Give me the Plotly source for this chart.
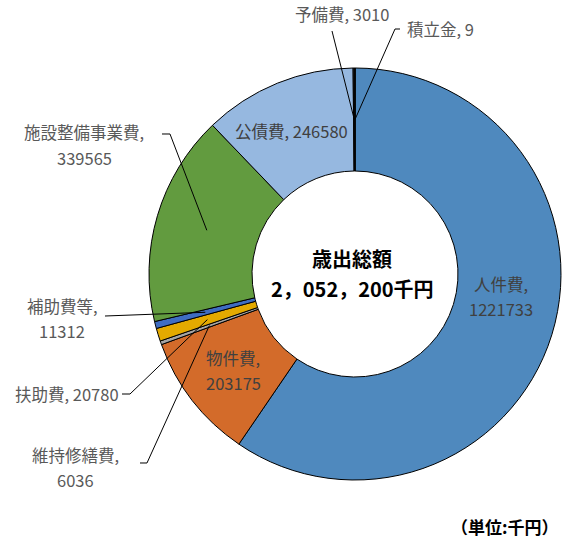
import math
import plotly.graph_objects as go

categories = ["人件費", "物件費", "維持修繕費", "扶助費", "補助費等",
              "施設整備事業費", "公債費", "予備費", "積立金"]
values = [1221733, 203175, 6036, 20780, 11312, 339565, 246580, 3010, 9]
colors = ["#4F89BE", "#D36B2A", "#A5A5A5", "#E4AA00", "#3F6DC2",
          "#629B3F", "#96B8E0", "#262626", "#2E4F7E"]
center_title = "歳出総額"
center_total = "2，052，200千円"
unit_label = "（単位:千円）"

W, H = 563, 542
CX, CY, R = 355, 274, 206
HOLE = 0.5
FONT = "Noto Sans CJK JP"
LABEL_SIZE = 16.5


def px(x):
    return x / W


def py(y):
    return 1 - y / H


total = sum(values)
mids = []
acc = 0
for v in values:
    mids.append((acc + v / 2) / total * 2 * math.pi)
    acc += v


def tip(i, rf=0.75):
    a = mids[i]
    r = R * rf
    return CX + r * math.sin(a), CY - r * math.cos(a)


fig = go.Figure(go.Pie(
    labels=categories, values=values, sort=False, direction="clockwise",
    rotation=0, hole=HOLE,
    marker=dict(colors=colors, line=dict(color="black", width=1)),
    textinfo="none", hoverinfo="label+value", showlegend=False,
    domain=dict(x=[(CX - R) / W, (CX + R) / W],
                y=[1 - (CY + R) / H, 1 - (CY - R) / H]),
))

annotations = []
shapes = []


def add_text(text, x, y, color="#595959", size=LABEL_SIZE, bold=False, xanchor="center"):
    t = f"<b>{text}</b>" if bold else text
    annotations.append(dict(x=px(x), y=py(y), xref="paper", yref="paper",
                            text=t, showarrow=False, xanchor=xanchor,
                            yanchor="middle",
                            font=dict(family=FONT, size=size, color=color)))


def fmt_label(i, two_lines):
    name = categories[i] + ","
    val = str(values[i])
    return [name, val] if two_lines else [f"{name} {val}"]


# label layout: (slice index, two lines?, text centre in px, leader elbow points)
outer = [
    (7, False, (342, 14), [(332, 31)]),
    (8, False, (440, 29), [(400, 29), (395, 29)]),
    (5, True, (84, 145), [(162, 134), (170, 134)]),
    (4, True, (62, 318), [(105, 316)]),
    (3, False, (67, 394), [(122, 394), (130, 394)]),
    (2, True, (75, 467), [(140, 463), (147, 463)]),
]
inner = [
    (6, False, (291, 131)),
    (0, True, (501, 296)),
    (1, True, (233, 370)),
]

for i, two, (tx, ty), pts in outer:
    lines = fmt_label(i, two)
    if two:
        add_text(lines[0], tx, ty - 12.5)
        add_text(lines[1], tx, ty + 12.5)
    else:
        add_text(lines[0], tx, ty)
    path_pts = pts + [tip(i)]
    path = "M " + " L ".join(f"{px(x):.5f},{py(y):.5f}" for x, y in path_pts)
    shapes.append(dict(type="path", path=path, xref="paper", yref="paper",
                       line=dict(color="black", width=1)))

for i, two, (tx, ty) in inner:
    lines = fmt_label(i, two)
    if two:
        add_text(lines[0], tx, ty - 12.5, color="#404040")
        add_text(lines[1], tx, ty + 12.5, color="#404040")
    else:
        add_text(lines[0], tx, ty, color="#404040")

add_text(center_title, 352, 258.5, color="black", size=20, bold=True)
add_text(center_total, 352, 288, color="black", size=20, bold=True)
add_text(unit_label, 561, 526, color="black", size=17, bold=True, xanchor="right")

fig.update_layout(
    width=W, height=H, margin=dict(l=0, r=0, t=0, b=0),
    paper_bgcolor="white", plot_bgcolor="white",
    annotations=annotations, shapes=shapes,
)

fig.write_html("out.html", config={"displayModeBar": False},
               post_script="document.body.style.margin='0';"
                           "document.body.style.overflow='hidden';")
